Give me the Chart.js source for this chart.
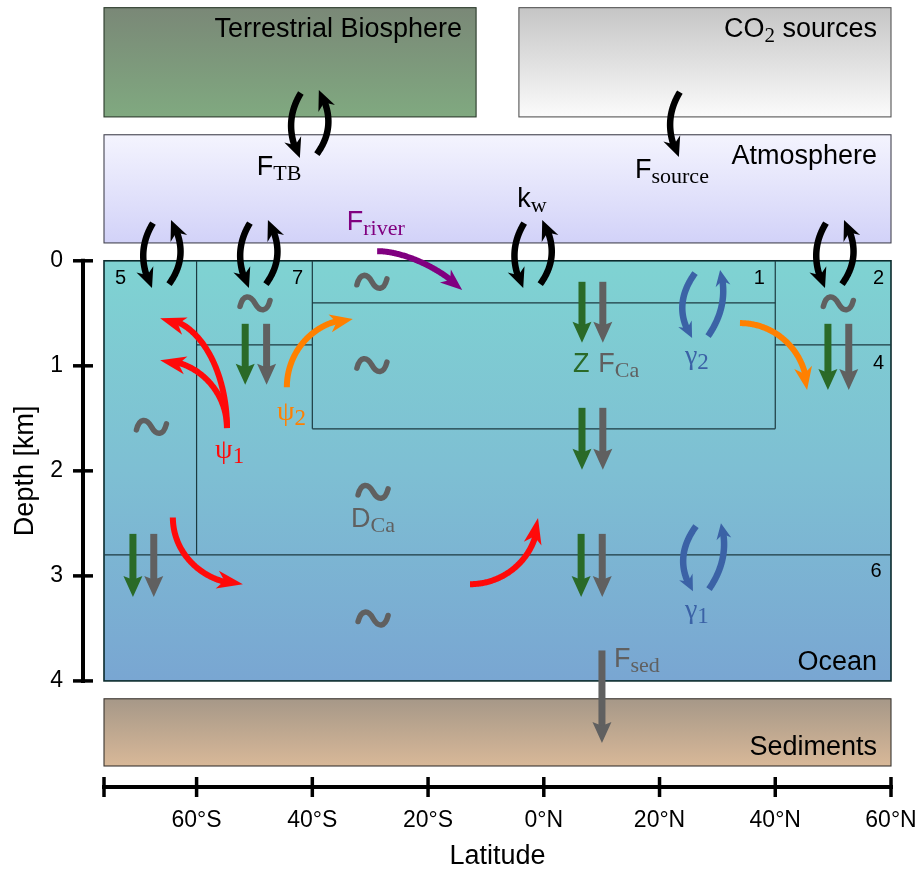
<!DOCTYPE html>
<html>
<head>
<meta charset="utf-8">
<title>Carbon box model</title>
<script src="https://cdn.jsdelivr.net/npm/chart.js@4.4.1/dist/chart.umd.min.js"></script>
<style>
  html, body { margin: 0; padding: 0; background: #fff; }
  #chart { display: block; }
</style>
</head>
<body>
<canvas id="chart" width="921" height="869"></canvas>
<script>
// axes
const latTicks = [-60, -40, -20, 0, 20, 40, 60];
const depthTicks = [0, 1, 2, 3, 4];
const latRange = [-76, 60];
const depthRange = [-2.483, 5.01];

// reservoirs (latitude span, depth span in km; negative depth = above sea surface)
const reservoirNames = ['Terrestrial Biosphere', 'CO_{2} sources', 'Atmosphere', 'Ocean', 'Sediments'];
const reservoirLat = [[-76, -11.7], [-4.3, 60], [-76, 60], [-76, 60], [-76, 60]];
const reservoirDepth = [[-2.41, -1.37], [-2.41, -1.37], [-1.2, -0.17], [0, 4], [4.17, 4.81]];

// ocean box boundaries: [lat0, depth0, lat1, depth1]
const boxEdges = [
  [-60, 0, -60, 2.8],
  [-76, 2.8, 60, 2.8],
  [-60, 0.8, -40, 0.8],
  [-40, 0, -40, 1.6],
  [-40, 0.4, 40, 0.4],
  [-40, 1.6, 40, 1.6],
  [40, 0, 40, 1.6],
  [40, 0.8, 60, 0.8]
];
const boxNumbers = ['5', '7', '1', '2', '4', '6'];
const boxNumberLat = [-74.1, -41.6, 38.2, 58.8, 58.8, 58.4];
const boxNumberDepth = [0.22, 0.22, 0.22, 0.22, 1.03, 3.01];

// overturning paths: start, bend, end as [lat, depth]
const psi1Paths = [
  [[-54.75, 1.593], [-54.75, 0.546], [-66.3, 0.546]],
  [[-54.75, 1.593], [-54.75, 0.946], [-66.3, 0.946]],
  [[-64.1, 2.444], [-64.1, 3.079], [-52.0, 3.079]],
  [[-12.75, 3.079], [-1.0, 3.079], [-1.0, 2.45]]
];
const psi2Paths = [
  [[-44.4, 1.203], [-44.4, 0.555], [-33.0, 0.555]],
  [[33.9, 0.593], [45.5, 0.593], [45.5, 1.231]]
];
const riverPath = [[-28.8, -0.092], [-20.5, -0.092], [-14.1, 0.279]];

// two-way exchanges (centre lat, depth)
const gasExchange = [[-66.15, -0.064], [-49.4, -0.064], [-2.0, -0.064], [50.15, -0.064], [-40.6, -1.302]];
const sourceFlux = [[24.9, -1.311]];
const mixingPairs = [[27.7, 0.412], [27.85, 2.822]];

// diffusive mixing marks
const eddyMarks = [[-49.9, 0.406], [-29.7, 0.2], [-29.7, 0.993], [-67.8, 1.581], [-29.5, 2.2], [-29.5, 3.406], [50.9, 0.406]];

// sinking fluxes: [lat, depth from, depth to]
const exportZ = [[-51.6, 0.6, 1.18], [6.6, 0.2, 0.78], [6.6, 1.4, 1.99], [6.45, 2.6, 3.2], [-71.0, 2.6, 3.2], [49.1, 0.6, 1.23]];
const exportCa = [[-47.9, 0.6, 1.18], [10.2, 0.2, 0.78], [10.2, 1.4, 1.99], [10.1, 2.6, 3.2], [-67.4, 2.6, 3.2], [52.7, 0.6, 1.23], [10.05, 3.71, 4.59]];

// flux labels
const fluxLabels = ['F_{TB}', 'F_{source}', 'k_{w}', 'F_{river}', 'Z', 'F_{Ca}', 'D_{Ca}', 'F_{sed}', 'ψ_{1}', 'ψ_{2}', 'γ_{2}', 'γ_{1}'];
const fluxLabelLat = [-49.6, 15.76, -4.58, -34.06, 5.04, 9.42, -33.32, 12.13, -56.8, -46.1, 24.4, 24.4];
const fluxLabelDepth = [-0.816, -0.785, -0.514, -0.292, 1.057, 1.057, 2.536, 3.87, 1.879, 1.517, 0.987, 3.40];

// ---- styling ----
const SANS = "'Liberation Sans', Arial, sans-serif";
const SERIF = "'Liberation Serif', 'Times New Roman', serif";
const RED = '#ff0a0a', ORANGE = '#ff8000', PURPLE = '#800080', BLUE = '#3b62a6', GREEN = '#2a6a28', GRAY = '#606060';
const reservoirFill = [
  [[0, '#7a8877'], [1, '#80a980']],
  [[0, '#c5c5c5'], [1, '#fbfbfb']],
  [[0, '#f4f4fe'], [1, '#d2d2f8']],
  [[0, '#7fd3d2'], [0.5, '#7ebfd3'], [1, '#79a6d2']],
  [[0, '#a69888'], [1, '#d8b898']]
];
const reservoirEdge = ['#2b3a2b', '#555555', '#444450', '#0b2a2c', '#3a3530'];
const fluxLabelColor = ['#000', '#000', '#000', PURPLE, GREEN, GRAY, GRAY, GRAY, RED, ORANGE, BLUE, BLUE];

// arc shapes for the two-way exchanges, in pixels around the centre
const blackArcs = [[[-8, -31], [-27, 0], [-9, 34]], [[8, 30], [30, 0], [10, -34]]];
const blueArcs = [[[-9, -31], [-33, 2], [-12, 34]], [[4, 32], [26, 0], [16, -34]]];

function splitRuns(label) {
  const runs = [];
  const re = /_\{([^}]*)\}/g;
  let last = 0, m;
  while ((m = re.exec(label))) {
    if (m.index > last) runs.push({ text: label.slice(last, m.index), sub: false });
    runs.push({ text: m[1], sub: true });
    last = re.lastIndex;
  }
  if (last < label.length) runs.push({ text: label.slice(last), sub: false });
  return runs;
}

function drawLabel(ctx, label, x, y, o) {
  const runs = splitRuns(label);
  const greek = /[ψγ]/.test(label);
  const mainFont = (greek ? 28 : o.size) + 'px ' + (greek ? SERIF : SANS);
  const subFont = (greek ? 23 : o.subSize) + 'px ' + SERIF;
  let w = 0;
  runs.forEach(r => { ctx.font = r.sub ? subFont : mainFont; r.w = ctx.measureText(r.text).width; w += r.w; });
  let cx = o.align === 'right' ? x - w : x;
  ctx.fillStyle = o.color;
  ctx.textAlign = 'left';
  ctx.textBaseline = 'alphabetic';
  runs.forEach(r => {
    ctx.font = r.sub ? subFont : mainFont;
    ctx.fillText(r.text, cx, y + (r.sub ? o.subShift : 0));
    cx += r.w;
  });
}

function cubicAt(p, t) {
  const u = 1 - t;
  const a = u * u * u, b = 3 * u * u * t, c = 3 * u * t * t, d = t * t * t;
  return [a * p[0][0] + b * p[1][0] + c * p[2][0] + d * p[3][0],
          a * p[0][1] + b * p[1][1] + c * p[2][1] + d * p[3][1]];
}
function fromQuad(S, C, E) {
  return [S, [S[0] + 2 / 3 * (C[0] - S[0]), S[1] + 2 / 3 * (C[1] - S[1])],
          [E[0] + 2 / 3 * (C[0] - E[0]), E[1] + 2 / 3 * (C[1] - E[1])], E];
}
function fromBend(S, C, E) {
  const k = 0.55;
  return [S, [S[0] + k * (C[0] - S[0]), S[1] + k * (C[1] - S[1])],
          [E[0] + k * (C[0] - E[0]), E[1] + k * (C[1] - E[1])], E];
}

function drawArrow(ctx, p, color, lw, hl, hw, inset) {
  const n = 120, s = [];
  for (let i = 0; i <= n; i++) s.push(cubicAt(p, i / n));
  const tip = s[n];
  let acc = 0, iCut = -1, iBack = 0;
  for (let i = n; i > 0; i--) {
    acc += Math.hypot(s[i][0] - s[i - 1][0], s[i][1] - s[i - 1][1]);
    if (iCut < 0 && acc >= hl * inset * 0.9) iCut = i - 1;
    if (acc >= hl) { iBack = i - 1; break; }
  }
  if (iCut < 0) iCut = 0;
  ctx.strokeStyle = color;
  ctx.lineWidth = lw;
  ctx.lineCap = 'butt';
  ctx.lineJoin = 'round';
  ctx.beginPath();
  ctx.moveTo(s[0][0], s[0][1]);
  for (let i = 1; i <= iCut; i++) ctx.lineTo(s[i][0], s[i][1]);
  ctx.stroke();
  let ux = tip[0] - s[iBack][0], uy = tip[1] - s[iBack][1];
  const L = Math.hypot(ux, uy) || 1;
  ux /= L; uy /= L;
  const nx = -uy, ny = ux;
  const bx = tip[0] - ux * hl, by = tip[1] - uy * hl;
  ctx.fillStyle = color;
  ctx.beginPath();
  ctx.moveTo(tip[0], tip[1]);
  ctx.lineTo(bx + nx * hw / 2, by + ny * hw / 2);
  ctx.lineTo(tip[0] - ux * hl * inset, tip[1] - uy * hl * inset);
  ctx.lineTo(bx - nx * hw / 2, by - ny * hw / 2);
  ctx.closePath();
  ctx.fill();
}

const boxModel = {
  id: 'boxModel',
  afterDraw(chart) {
    const { ctx, chartArea, scales } = chart;
    const X = v => scales.x.getPixelForValue(v);
    const Y = v => scales.y.getPixelForValue(v);
    const P = pt => [X(pt[0]), Y(pt[1])];
    ctx.save();

    // reservoirs
    reservoirNames.forEach((name, i) => {
      const x0 = X(reservoirLat[i][0]), x1 = X(reservoirLat[i][1]);
      const y0 = Y(reservoirDepth[i][0]), y1 = Y(reservoirDepth[i][1]);
      const g = ctx.createLinearGradient(0, y0, 0, y1);
      reservoirFill[i].forEach(st => g.addColorStop(st[0], st[1]));
      ctx.fillStyle = g;
      ctx.fillRect(x0, y0, x1 - x0, y1 - y0);
      ctx.strokeStyle = reservoirEdge[i];
      ctx.lineWidth = i === 3 ? 1.6 : 1.1;
      ctx.strokeRect(x0, y0, x1 - x0, y1 - y0);
    });

    // ocean boxes
    ctx.strokeStyle = '#1c3a40';
    ctx.lineWidth = 1.2;
    boxEdges.forEach(e => {
      ctx.beginPath();
      ctx.moveTo(X(e[0]), Y(e[1]));
      ctx.lineTo(X(e[2]), Y(e[3]));
      ctx.stroke();
    });

    // reservoir names
    reservoirNames.forEach((name, i) => {
      const x1 = X(reservoirLat[i][1]);
      const yy = i < 3 ? Y(reservoirDepth[i][0]) + 29 : Y(reservoirDepth[i][1]) - 11;
      drawLabel(ctx, name, x1 - 14, yy, { size: 27, subSize: 21, subShift: 5, align: 'right', color: '#000' });
    });

    // box numbers
    ctx.fillStyle = '#000';
    ctx.font = '20px ' + SANS;
    ctx.textBaseline = 'alphabetic';
    boxNumbers.forEach((t, i) => {
      ctx.textAlign = i === 0 ? 'left' : 'right';
      ctx.fillText(t, X(boxNumberLat[i]), Y(boxNumberDepth[i]));
    });

    // diffusive mixing marks
    ctx.strokeStyle = GRAY;
    ctx.lineWidth = 5.5;
    ctx.lineCap = 'round';
    eddyMarks.forEach(m => {
      const [cx, cy] = P(m);
      ctx.beginPath();
      ctx.moveTo(cx - 15, cy + 3);
      ctx.bezierCurveTo(cx - 12, cy - 9, cx - 5, cy - 9, cx, cy);
      ctx.bezierCurveTo(cx + 5, cy + 9, cx + 12, cy + 9, cx + 15, cy - 3);
      ctx.stroke();
    });

    // sinking fluxes
    const straight = (f, color) => {
      const a = P([f[0], f[1]]), b = P([f[0], f[2]]);
      drawArrow(ctx, [a, a, b, b], color, 7, 21, 19, 0.82);
    };
    exportZ.forEach(f => straight(f, GREEN));
    exportCa.forEach(f => straight(f, GRAY));

    // overturning and river input
    psi1Paths.forEach(p => drawArrow(ctx, fromBend(P(p[0]), P(p[1]), P(p[2])), RED, 6, 26, 18, 0.72));
    psi2Paths.forEach(p => drawArrow(ctx, fromBend(P(p[0]), P(p[1]), P(p[2])), ORANGE, 6, 23, 18, 0.72));
    drawArrow(ctx, fromBend(P(riverPath[0]), P(riverPath[1]), P(riverPath[2])), PURPLE, 6, 22, 17, 0.72);

    // two-way exchanges
    const pair = (c, arcs, color, lw, hl, hw) => {
      const [cx, cy] = P(c);
      arcs.forEach(a => {
        const q = a.map(o => [cx + o[0], cy + o[1]]);
        drawArrow(ctx, fromQuad(q[0], q[1], q[2]), color, lw, hl, hw, 0.68);
      });
    };
    gasExchange.forEach(c => pair(c, blackArcs, '#000', 6.5, 20, 18));
    sourceFlux.forEach(c => pair(c, [blackArcs[0]], '#000', 6.5, 20, 18));
    mixingPairs.forEach(c => pair(c, blueArcs, BLUE, 6.5, 16, 15));

    // flux labels
    fluxLabels.forEach((t, i) => {
      drawLabel(ctx, t, X(fluxLabelLat[i]), Y(fluxLabelDepth[i]),
        { size: 27, subSize: 22, subShift: 5, align: 'left', color: fluxLabelColor[i] });
    });

    // depth axis
    const ax = chartArea.left - 21;
    ctx.strokeStyle = '#000';
    ctx.lineCap = 'butt';
    ctx.lineWidth = 4;
    ctx.beginPath();
    ctx.moveTo(ax, Y(depthTicks[0]) - 2);
    ctx.lineTo(ax, Y(depthTicks[depthTicks.length - 1]) + 2);
    ctx.stroke();
    ctx.lineWidth = 3.5;
    depthTicks.forEach(d => {
      ctx.beginPath();
      ctx.moveTo(ax - 10, Y(d));
      ctx.lineTo(ax + 10, Y(d));
      ctx.stroke();
    });

    // latitude axis
    const ay = chartArea.bottom;
    ctx.lineWidth = 4;
    ctx.beginPath();
    ctx.moveTo(X(latRange[0]) - 2, ay);
    ctx.lineTo(X(latRange[1]) + 2, ay);
    ctx.stroke();
    ctx.lineWidth = 3.5;
    [latRange[0]].concat(latTicks).forEach(v => {
      ctx.beginPath();
      ctx.moveTo(X(v), ay - 10);
      ctx.lineTo(X(v), ay + 10);
      ctx.stroke();
    });

    // axis titles
    ctx.fillStyle = '#000';
    ctx.font = '27px ' + SANS;
    ctx.textAlign = 'center';
    ctx.textBaseline = 'alphabetic';
    ctx.fillText('Latitude', (chartArea.left + chartArea.right) / 2, 864);
    ctx.save();
    ctx.translate(33, Y((depthTicks[0] + depthTicks[depthTicks.length - 1]) / 2));
    ctx.rotate(-Math.PI / 2);
    ctx.fillText('Depth [km]', 0, 0);
    ctx.restore();

    ctx.restore();
  }
};

const tickFont = { family: SANS, size: 23 };

new Chart(document.getElementById('chart'), {
  type: 'scatter',
  data: { datasets: [] },
  options: {
    responsive: false,
    animation: false,
    devicePixelRatio: 1,
    layout: { padding: { top: 0, right: 30, bottom: 0, left: 0 } },
    plugins: { legend: { display: false }, tooltip: { enabled: false } },
    scales: {
      x: {
        type: 'linear',
        min: latRange[0],
        max: latRange[1],
        afterBuildTicks: s => { s.ticks = latTicks.map(v => ({ value: v })); },
        afterFit: s => { s.height = 82; s.paddingLeft = 0; s.paddingRight = 0; },
        grid: { display: false, drawTicks: false },
        border: { display: false },
        ticks: {
          padding: 20,
          autoSkip: false,
          maxRotation: 0,
          color: '#000',
          font: tickFont,
          callback: v => v < 0 ? (-v) + '°S' : v + '°N'
        }
      },
      y: {
        type: 'linear',
        reverse: true,
        min: depthRange[0],
        max: depthRange[1],
        afterBuildTicks: s => { s.ticks = depthTicks.map(v => ({ value: v })); },
        afterFit: s => { s.width = 104; s.paddingTop = 0; s.paddingBottom = 0; },
        grid: { display: false, drawTicks: false },
        border: { display: false },
        ticks: { padding: 41, autoSkip: false, color: '#000', font: tickFont }
      }
    }
  },
  plugins: [boxModel]
});
</script>
</body>
</html>
